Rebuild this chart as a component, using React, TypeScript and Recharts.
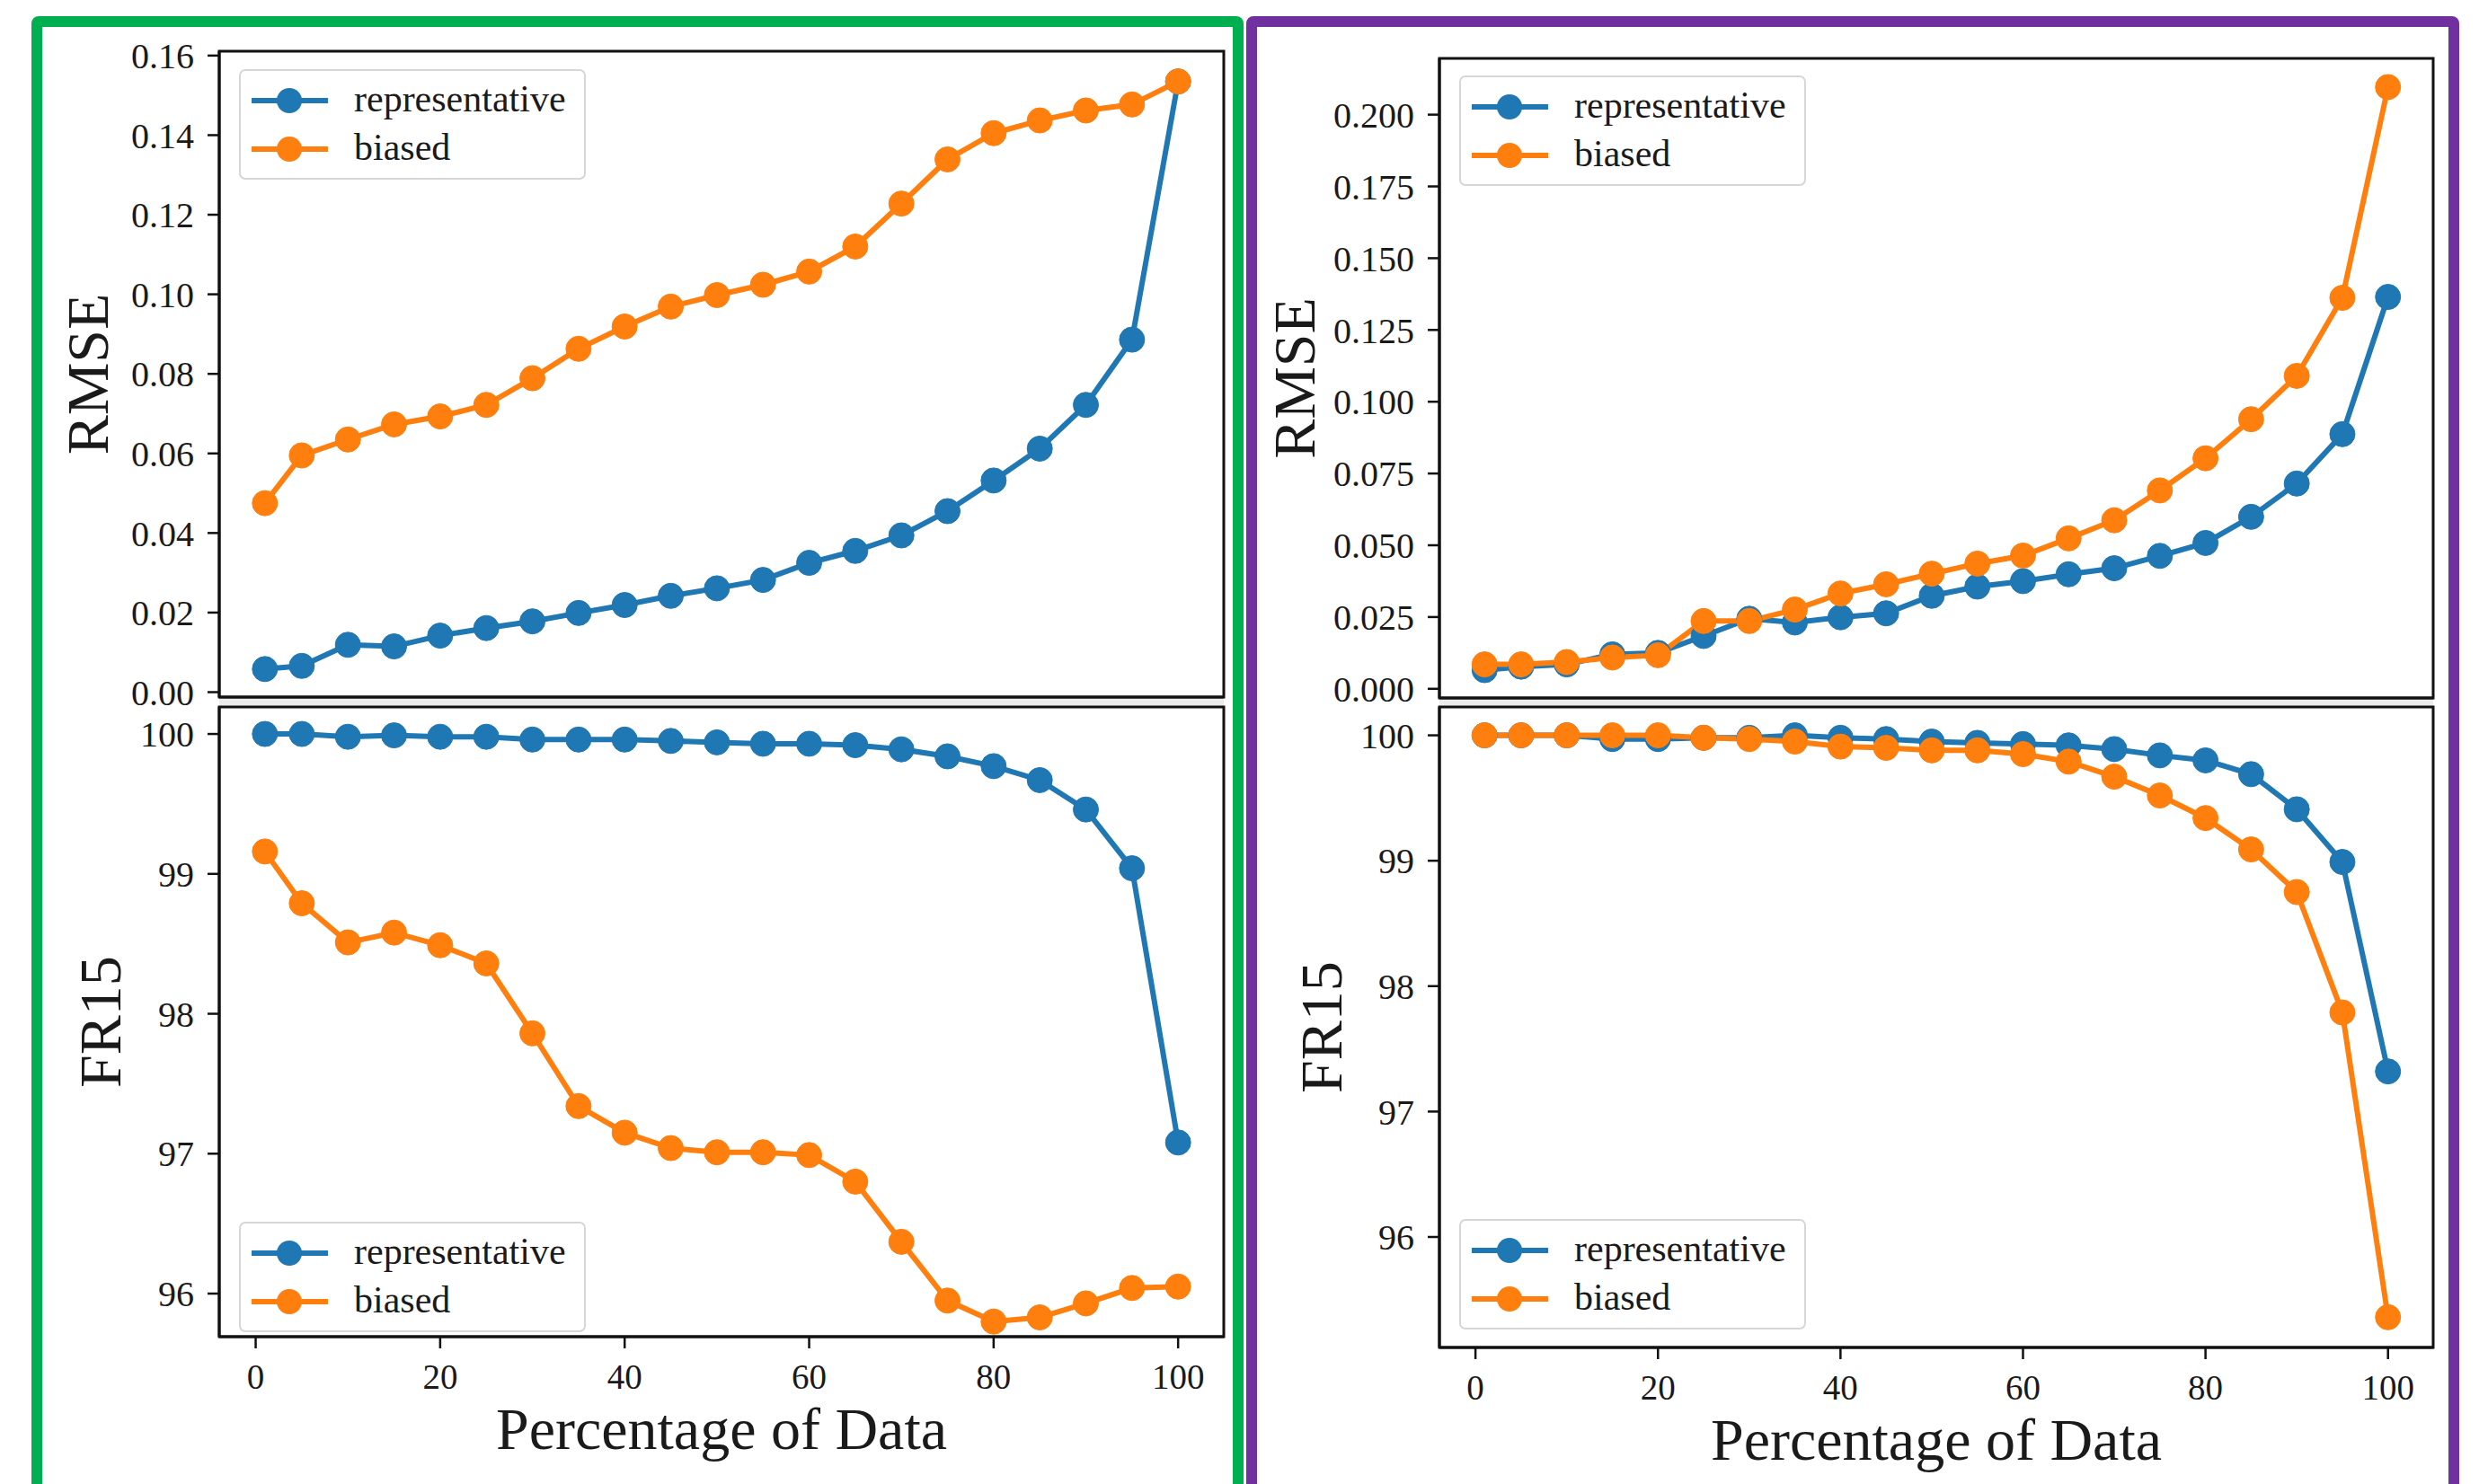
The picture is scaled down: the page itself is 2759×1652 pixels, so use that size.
import React from 'react';
import { LineChart, Line, XAxis, YAxis, Legend, ReferenceArea, Label } from 'recharts';

const pct = [1, 5, 10, 15, 20, 25, 30, 35, 40, 45, 50, 55, 60, 65, 70, 75, 80, 85, 90, 95, 100];
const pctTicks = [0, 20, 40, 60, 80, 100];

const leftRmseRep = [0.0058, 0.0066, 0.0119, 0.0115, 0.0142, 0.0161, 0.0178, 0.0199, 0.0219, 0.0242, 0.0261, 0.0282, 0.0325, 0.0355, 0.0394, 0.0455, 0.0532, 0.0612, 0.0722, 0.0886, 0.1535];
const leftRmseBiased = [0.0475, 0.0595, 0.0635, 0.0673, 0.0693, 0.0722, 0.0789, 0.0863, 0.0919, 0.0969, 0.0998, 0.1024, 0.1057, 0.112, 0.1228, 0.1339, 0.1405, 0.1437, 0.1462, 0.1477, 0.1535];
const leftFr15Rep = [100.0, 100.0, 99.98, 99.99, 99.98, 99.98, 99.96, 99.96, 99.96, 99.95, 99.94, 99.93, 99.93, 99.92, 99.89, 99.84, 99.77, 99.67, 99.46, 99.04, 97.08];
const leftFr15Biased = [99.16, 98.79, 98.51, 98.58, 98.49, 98.36, 97.86, 97.34, 97.15, 97.04, 97.01, 97.01, 96.99, 96.8, 96.37, 95.95, 95.8, 95.83, 95.93, 96.04, 96.05];

const rightRmseRep = [0.0065, 0.0077, 0.0085, 0.012, 0.0125, 0.0184, 0.0244, 0.0231, 0.0249, 0.0263, 0.0324, 0.0356, 0.0375, 0.0399, 0.042, 0.0463, 0.0508, 0.0599, 0.0715, 0.0887, 0.1365];
const rightRmseBiased = [0.0085, 0.0085, 0.0093, 0.0109, 0.0117, 0.0236, 0.0236, 0.0276, 0.0332, 0.0364, 0.0401, 0.0436, 0.0464, 0.0524, 0.0587, 0.0691, 0.0803, 0.0939, 0.109, 0.1362, 0.2096];
const rightFr15Rep = [100.0, 100.0, 100.0, 99.97, 99.97, 99.98, 99.98, 100.0, 99.98, 99.97, 99.95, 99.94, 99.93, 99.92, 99.89, 99.84, 99.8, 99.69, 99.41, 98.99, 97.32];
const rightFr15Biased = [100.0, 100.0, 100.0, 100.0, 100.0, 99.98, 99.97, 99.95, 99.91, 99.9, 99.88, 99.88, 99.85, 99.79, 99.67, 99.52, 99.34, 99.09, 98.75, 97.79, 95.36];

const rmseTicksLeft = [0, 0.02, 0.04, 0.06, 0.08, 0.1, 0.12, 0.14, 0.16];
const rmseTicksRight = [0, 0.025, 0.05, 0.075, 0.1, 0.125, 0.15, 0.175, 0.2];
const fr15Ticks = [96, 97, 98, 99, 100];
const seriesOrder = ['rep', 'biased'];

const BLUE = '#1f77b4';
const ORANGE = '#ff7f0e';
const INK = '#1a1a1a';
const SERIF = "'Liberation Serif', 'DejaVu Serif', serif";
const X_DOMAIN: [number, number] = [-3.95, 104.95];

const LegendBox = ({ payload }: any) => {
  // recharts may reorder the payload, keep plotting order
  const items = seriesOrder
    .map((k) => (payload || []).find((e: any) => e.dataKey === k))
    .filter(Boolean);
  return (
    <div
      style={{
        width: 386,
        height: 123,
        boxSizing: 'border-box',
        border: '2px solid #d6d6d6',
        borderRadius: 7,
        background: 'rgba(255,255,255,0.85)',
        position: 'relative',
      }}
    >
      {items.map((entry: any, i: number) => (
        <div key={i} style={{ position: 'absolute', left: 0, top: 33 + i * 54 - 20, height: 40, width: 380 }}>
          <svg width={110} height={40} style={{ position: 'absolute', left: 0, top: 0 }}>
            <line x1={12} y1={20} x2={97} y2={20} stroke={entry.color} strokeWidth={6} />
            <circle cx={54} cy={20} r={14} fill={entry.color} />
          </svg>
          <span
            style={{
              position: 'absolute',
              left: 126,
              top: 0,
              lineHeight: '36px',
              fontFamily: SERIF,
              fontSize: 42,
              color: INK,
            }}
          >
            {entry.value}
          </span>
        </div>
      ))}
    </div>
  );
};

interface SubplotProps {
  plotL: number;
  plotT: number;
  plotW: number;
  plotH: number;
  bottomAxis: boolean;
  yDomain: [number, number];
  yTicks: number[];
  yFmt: (v: number) => string;
  ylabel: string;
  ylabelX: number;
  rep: number[];
  biased: number[];
  legendX: number;
  legendY: number;
}

const Subplot = (p: SubplotProps) => {
  const chartL = p.plotL - 200;
  const chartT = p.plotT - 40;
  const xH = p.bottomAxis ? 170 : 12;
  // extra room under the top plots so the lowest tick label is not clipped
  const padB = p.bottomAxis ? 0 : 30;
  const width = p.plotW + 240;
  const height = p.plotH + 40 + xH + padB;
  const data = pct.map((x, i) => ({ x, rep: p.rep[i], biased: p.biased[i] }));

  return (
    <div style={{ position: 'absolute', left: chartL, top: chartT }}>
      <LineChart width={width} height={height} data={data} margin={{ top: 40, right: 40, bottom: padB, left: 0 }}>
        <XAxis
          dataKey="x"
          type="number"
          domain={X_DOMAIN}
          ticks={pctTicks}
          interval={0}
          allowDataOverflow
          height={xH}
          axisLine={{ stroke: '#111', strokeWidth: 3 }}
          tickLine={{ stroke: '#111', strokeWidth: 2.5 }}
          tickSize={p.bottomAxis ? 13 : 10}
          tickMargin={17}
          tick={p.bottomAxis ? { fill: INK, fontSize: 39, fontFamily: SERIF } : false}
        >
          {p.bottomAxis && (
            <Label
              content={() => (
                <text
                  x={200 + p.plotW / 2}
                  y={40 + p.plotH + 125}
                  textAnchor="middle"
                  fill={INK}
                  fontSize={66}
                  fontFamily={SERIF}
                >
                  Percentage of Data
                </text>
              )}
            />
          )}
        </XAxis>
        <YAxis
          type="number"
          width={200}
          domain={p.yDomain}
          ticks={p.yTicks}
          interval={0}
          allowDataOverflow
          tickFormatter={p.yFmt}
          axisLine={{ stroke: '#111', strokeWidth: 3 }}
          tickLine={{ stroke: '#111', strokeWidth: 2.5 }}
          tickSize={13}
          tickMargin={15}
          tick={{ fill: INK, fontSize: 40, fontFamily: SERIF }}
        >
          <Label
            content={() => {
              const x = p.ylabelX - chartL;
              const y = 40 + p.plotH / 2;
              return (
                <text
                  x={x}
                  y={y}
                  transform={`rotate(-90, ${x}, ${y})`}
                  textAnchor="middle"
                  fill={INK}
                  fontSize={66}
                  fontFamily={SERIF}
                >
                  {p.ylabel}
                </text>
              );
            }}
          />
        </YAxis>
        <ReferenceArea
          x1={X_DOMAIN[0]}
          x2={X_DOMAIN[1]}
          y1={p.yDomain[0]}
          y2={p.yDomain[1]}
          fill="none"
          stroke="#111"
          strokeWidth={3}
          ifOverflow="visible"
        />
        <Legend
          layout="vertical"
          align="center"
          verticalAlign="middle"
          content={<LegendBox />}
          wrapperStyle={{ left: p.legendX - chartL, top: p.legendY - chartT, width: 386, height: 123 }}
        />
        <Line
          type="linear"
          dataKey="rep"
          name="representative"
          stroke={BLUE}
          strokeWidth={6}
          dot={{ r: 14, fill: BLUE, stroke: BLUE, strokeWidth: 1 }}
          isAnimationActive={false}
        />
        <Line
          type="linear"
          dataKey="biased"
          name="biased"
          stroke={ORANGE}
          strokeWidth={6}
          dot={{ r: 14, fill: ORANGE, stroke: ORANGE, strokeWidth: 1 }}
          isAnimationActive={false}
        />
      </LineChart>
    </div>
  );
};

const fmt2 = (v: number) => v.toFixed(2);
const fmt3 = (v: number) => v.toFixed(3);
const fmt0 = (v: number) => v.toFixed(0);

export default function App() {
  return (
    <div style={{ position: 'absolute', left: 0, top: 0, width: 2759, height: 1652, overflow: 'hidden', background: '#fff' }}>
      {/* panel frames */}
      <div
        style={{
          position: 'absolute',
          left: 35,
          top: 18,
          width: 1349,
          height: 1700,
          boxSizing: 'border-box',
          border: '12px solid #00b050',
          borderRadius: 8,
        }}
      />
      <div
        style={{
          position: 'absolute',
          left: 1387,
          top: 18,
          width: 1350,
          height: 1700,
          boxSizing: 'border-box',
          border: '12px solid #7030a0',
          borderRadius: 8,
        }}
      />
      {/* faint band between stacked axes */}
      <div style={{ position: 'absolute', left: 244, top: 778, width: 1118, height: 8, background: '#ececec' }} />
      <div style={{ position: 'absolute', left: 1602, top: 779, width: 1106, height: 7, background: '#ececec' }} />

      <Subplot
        plotL={244} plotT={57} plotW={1118} plotH={719} bottomAxis={false}
        yDomain={[-0.00124, 0.1611]} yTicks={rmseTicksLeft} yFmt={fmt2}
        ylabel="RMSE" ylabelX={120}
        rep={leftRmseRep} biased={leftRmseBiased}
        legendX={266} legendY={77}
      />
      <Subplot
        plotL={244} plotT={787} plotW={1118} plotH={701} bottomAxis
        yDomain={[95.692, 100.193]} yTicks={fr15Ticks} yFmt={fmt0}
        ylabel="FR15" ylabelX={134}
        rep={leftFr15Rep} biased={leftFr15Biased}
        legendX={266} legendY={1360}
      />
      <Subplot
        plotL={1602} plotT={65} plotW={1106} plotH={712} bottomAxis={false}
        yDomain={[-0.0032, 0.2196]} yTicks={rmseTicksRight} yFmt={fmt3}
        ylabel="RMSE" ylabelX={1463}
        rep={rightRmseRep} biased={rightRmseBiased}
        legendX={1624} legendY={84}
      />
      <Subplot
        plotL={1602} plotT={787} plotW={1106} plotH={713} bottomAxis
        yDomain={[95.119, 100.226]} yTicks={fr15Ticks} yFmt={fmt0}
        ylabel="FR15" ylabelX={1493}
        rep={rightFr15Rep} biased={rightFr15Biased}
        legendX={1624} legendY={1357}
      />
    </div>
  );
}
